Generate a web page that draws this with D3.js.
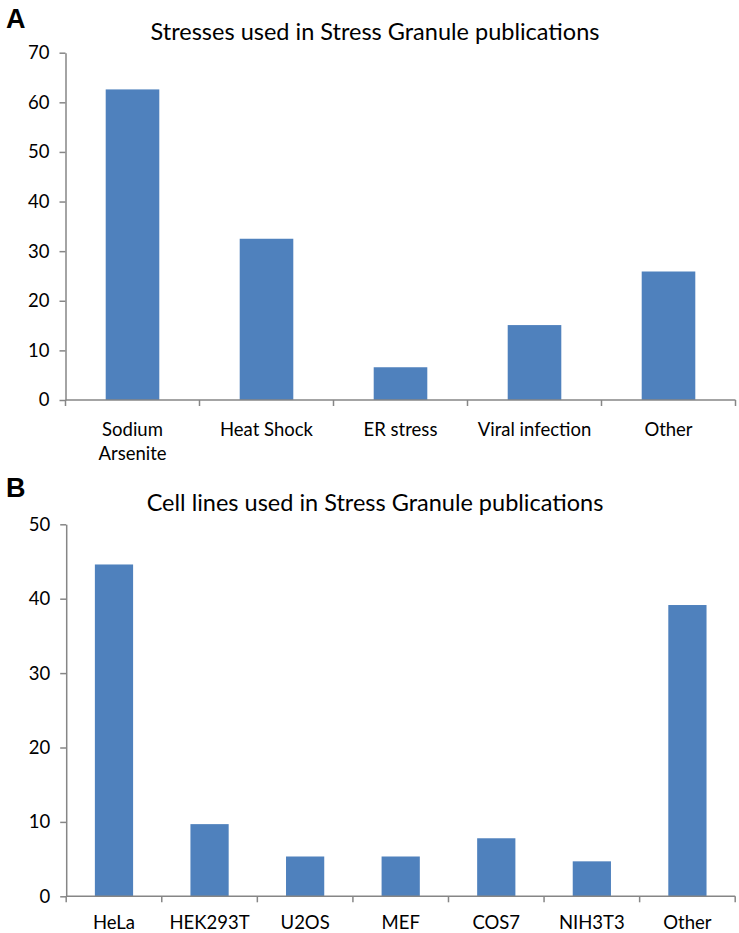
<!DOCTYPE html>
<html>
<head>
<meta charset="utf-8">
<script src="https://cdn.jsdelivr.net/npm/d3@7"></script>
<style>
  body { margin: 0; background: #fff; }
  svg text { font-family: Lato, "Open Sans", sans-serif; fill: #000; }
</style>
</head>
<body>
<div id="chart"></div>
<script>
let width = 739;
let height = 933;

// panel A data
let stressCats = ["Sodium Arsenite", "Heat Shock", "ER stress", "Viral infection", "Other"];
let stressVals = [62.6, 32.5, 6.6, 15.1, 25.9];
let stressTicks = [0, 10, 20, 30, 40, 50, 60, 70];

// panel B data
let cellCats = ["HeLa", "HEK293T", "U2OS", "MEF", "COS7", "NIH3T3", "Other"];
let cellVals = [44.6, 9.7, 5.35, 5.35, 7.8, 4.7, 39.15];
let cellTicks = [0, 10, 20, 30, 40, 50];

let barColor = "#4f81bd";
let axisColor = "#868686";

let svg = d3.select("#chart")
  .append("svg")
  .attr("width", width)
  .attr("height", height);

var drawPanel = function(opt) {
  let g = svg.append("g");

  let x = d3.scaleBand()
    .domain(opt.cats)
    .range(opt.xRange)
    .paddingInner(0.6)
    .paddingOuter(0.3);

  let y = d3.scaleLinear()
    .domain([0, opt.max])
    .range(opt.yRange);

  // panel letter
  g.append("text")
    .attr("x", 6)
    .attr("y", opt.letterY)
    .style("font-family", "'Liberation Sans', Arial, sans-serif")
    .style("font-weight", "bold")
    .style("font-size", "27px")
    .text(opt.letter);

  // title
  g.append("text")
    .attr("x", opt.titleX)
    .attr("y", opt.titleY)
    .attr("text-anchor", "middle")
    .style("font-size", "23.5px")
    .text(opt.title);

  // bars
  g.selectAll("rect")
    .data(opt.vals)
    .enter()
    .append("rect")
    .attr("x", (d, i) => x(opt.cats[i]))
    .attr("width", x.bandwidth())
    .attr("y", d => y(d))
    .attr("height", d => y(0) - y(d))
    .attr("fill", barColor);

  // y axis
  let yAxis = g.append("g")
    .attr("transform", "translate(" + opt.xRange[0] + ",0)")
    .call(d3.axisLeft(y).tickValues(opt.ticks).tickSize(6).tickSizeOuter(0).tickPadding(10));
  yAxis.select(".domain").attr("stroke", axisColor).attr("stroke-width", 1.5);
  yAxis.selectAll(".tick line").attr("stroke", axisColor).attr("stroke-width", 1.5);
  yAxis.selectAll(".tick text")
    .style("font-family", "Lato, 'Open Sans', sans-serif")
    .style("font-size", "18.5px")
    .attr("fill", "#000");

  // x axis line and ticks between bands
  let step = x.step();
  let bounds = d3.range(opt.cats.length + 1).map(i => opt.xRange[0] + i * step);
  g.append("line")
    .attr("x1", opt.xRange[0]).attr("x2", opt.xRange[1])
    .attr("y1", y(0)).attr("y2", y(0))
    .attr("stroke", axisColor).attr("stroke-width", 1.5);
  g.selectAll(".xtick")
    .data(bounds)
    .enter()
    .append("line")
    .attr("x1", d => d).attr("x2", d => d)
    .attr("y1", y(0)).attr("y2", y(0) + 6)
    .attr("stroke", axisColor).attr("stroke-width", 1.5);

  // category labels
  let labels = g.selectAll(".cat")
    .data(opt.cats)
    .enter()
    .append("text")
    .attr("text-anchor", "middle")
    .attr("y", y(0) + opt.labelOffset)
    .style("font-size", "18.5px");
  labels.each(function(d) {
    let lines = opt.wrap && d === "Sodium Arsenite" ? ["Sodium", "Arsenite"] : [d];
    let t = d3.select(this);
    lines.forEach((l, j) => {
      t.append("tspan")
        .attr("x", x(d) + x.bandwidth() / 2)
        .attr("dy", j === 0 ? 0 : 24)
        .text(l);
    });
  });
};

drawPanel({
  letter: "A", letterY: 28,
  title: "Stresses used in Stress Granule publications", titleX: 375, titleY: 40,
  cats: stressCats, vals: stressVals, ticks: stressTicks, max: 70,
  xRange: [65.5, 735.5], yRange: [400, 52.7], wrap: true, labelOffset: 36
});

drawPanel({
  letter: "B", letterY: 497,
  title: "Cell lines used in Stress Granule publications", titleX: 375, titleY: 511,
  cats: cellCats, vals: cellVals, ticks: cellTicks, max: 50,
  xRange: [66.2, 735.2], yRange: [896.3, 524.3], wrap: false, labelOffset: 33
});
</script>
</body>
</html>
